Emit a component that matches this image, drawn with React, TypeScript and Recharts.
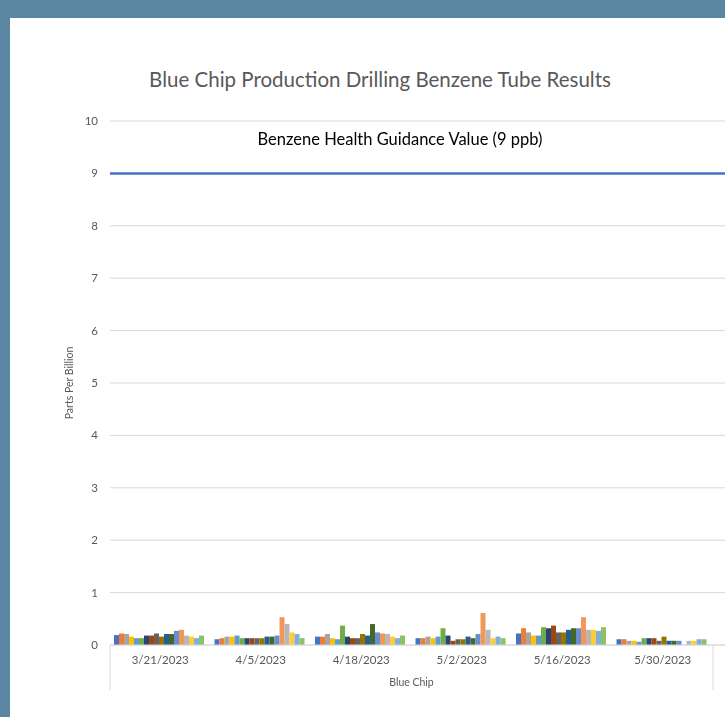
import React from 'react'
import {
  BarChart,
  Bar,
  XAxis,
  YAxis,
  CartesianGrid,
  ReferenceLine,
} from 'recharts'

const DATES = ['3/21/2023', '4/5/2023', '4/18/2023', '5/2/2023', '5/16/2023', '5/30/2023']

// one value per tube, 18 tubes per sampling date (ppb)
const R_0321 = [0.19, 0.22, 0.21, 0.16, 0.13, 0.13, 0.18, 0.18, 0.22, 0.16, 0.21, 0.21, 0.27, 0.29, 0.18, 0.16, 0.13, 0.18]
const R_0405 = [0.11, 0.13, 0.16, 0.16, 0.18, 0.13, 0.13, 0.13, 0.13, 0.13, 0.16, 0.16, 0.18, 0.53, 0.4, 0.24, 0.21, 0.13]
const R_0418 = [0.16, 0.16, 0.21, 0.13, 0.11, 0.37, 0.16, 0.13, 0.13, 0.21, 0.18, 0.4, 0.24, 0.22, 0.21, 0.16, 0.13, 0.18]
const R_0502 = [0.13, 0.13, 0.16, 0.13, 0.16, 0.32, 0.18, 0.08, 0.11, 0.11, 0.16, 0.13, 0.21, 0.61, 0.29, 0.13, 0.16, 0.13]
const R_0516 = [0.22, 0.32, 0.24, 0.18, 0.18, 0.34, 0.32, 0.37, 0.24, 0.24, 0.29, 0.32, 0.32, 0.53, 0.29, 0.29, 0.27, 0.34]
const R_0530 = [0.11, 0.11, 0.08, 0.08, 0.06, 0.13, 0.13, 0.13, 0.08, 0.16, 0.08, 0.08, 0.08, null, 0.08, 0.08, 0.11, 0.11]

const READINGS = [R_0321, R_0405, R_0418, R_0502, R_0516, R_0530]

const Y_TICKS = [0, 1, 2, 3, 4, 5, 6, 7, 8, 9, 10]
const GUIDANCE = 9

const COLORS = [
  '#4472C4', '#ED7D31', '#A5A5A5', '#FFC000', '#5B9BD5', '#70AD47',
  '#264478', '#9E480E', '#636363', '#997300', '#255E91', '#43682B',
  '#698ED0', '#F1975A', '#B7B7B7', '#FFCD33', '#7CAFDD', '#8CC168',
]

const TUBES = COLORS.map((_, i) => `tube${i + 1}`)

const data = DATES.map((date, d) => {
  const row: Record<string, string | number | null> = { date }
  TUBES.forEach((t, i) => {
    row[t] = READINGS[d][i]
  })
  return row
})

const FONT = 'Lato, "Open Sans", sans-serif'

const DateTick = (props: any) => {
  const { x, y, payload, index } = props
  const half = 50.25
  return (
    <g>
      <text x={x} y={y + 11} textAnchor="middle" fontSize={11.5} fill="#595959" fontFamily={FONT}>
        {payload.value}
      </text>
      {index === 0 && <line x1={x - half} x2={x - half} y1={y - 8} y2={y + 37} stroke="#d9d9d9" />}
      {index === DATES.length - 1 && (
        <line x1={x + half} x2={x + half} y1={y - 8} y2={y + 37} stroke="#d9d9d9" />
      )}
    </g>
  )
}

export default function App() {
  return (
    <div style={{ position: 'fixed', left: 0, top: 0, width: 725, height: 717, background: '#5b86a2' }}>
      <div style={{ position: 'absolute', left: 10, top: 18, width: 715, height: 699, background: '#fff' }} />
      <div
        style={{
          position: 'absolute',
          left: 0,
          top: 67,
          width: 760,
          textAlign: 'center',
          fontFamily: FONT,
          fontSize: 20.5,
          color: '#595959',
        }}
      >
        Blue Chip Production Drilling Benzene Tube Results
      </div>
      <div
        style={{
          position: 'absolute',
          left: 0,
          top: 129,
          width: 800,
          textAlign: 'center',
          fontFamily: FONT,
          fontSize: 16.5,
          color: '#000',
        }}
      >
        Benzene Health Guidance Value (9 ppb)
      </div>
      <div style={{ position: 'absolute', left: 0, top: 0 }}>
        <BarChart
          width={725}
          height={717}
          data={data}
          margin={{ top: 121, right: 0, left: 80, bottom: 27 }}
          barCategoryGap="4%"
          barGap={0}
        >
          <CartesianGrid vertical={false} stroke="#d9d9d9" />
          <XAxis
            dataKey="date"
            height={45}
            padding={{ left: 0, right: 12 }}
            axisLine={{ stroke: '#d9d9d9' }}
            tickLine={false}
            interval={0}
            tick={<DateTick />}
            label={{
              value: 'Blue Chip',
              position: 'insideBottom',
              offset: 4,
              dx: -6,
              fontSize: 10.5,
              fill: '#595959',
              fontFamily: FONT,
            }}
          />
          <YAxis
            width={30}
            domain={[0, 10]}
            ticks={Y_TICKS}
            interval={0}
            axisLine={false}
            tickLine={false}
            tickMargin={6}
            tick={{ fontSize: 11.5, fill: '#595959', fontFamily: FONT }}
            label={{
              value: 'Parts Per Billion',
              angle: -90,
              position: 'insideLeft',
              offset: -11,
              style: { textAnchor: 'middle' },
              fontSize: 10.5,
              fill: '#595959',
              fontFamily: FONT,
            }}
          />
          {TUBES.map((t, i) => (
            <Bar key={t} dataKey={t} fill={COLORS[i]} isAnimationActive={false} />
          ))}
          <ReferenceLine y={GUIDANCE} stroke="#4472C4" strokeWidth={2.5} />
        </BarChart>
      </div>
    </div>
  )
}
